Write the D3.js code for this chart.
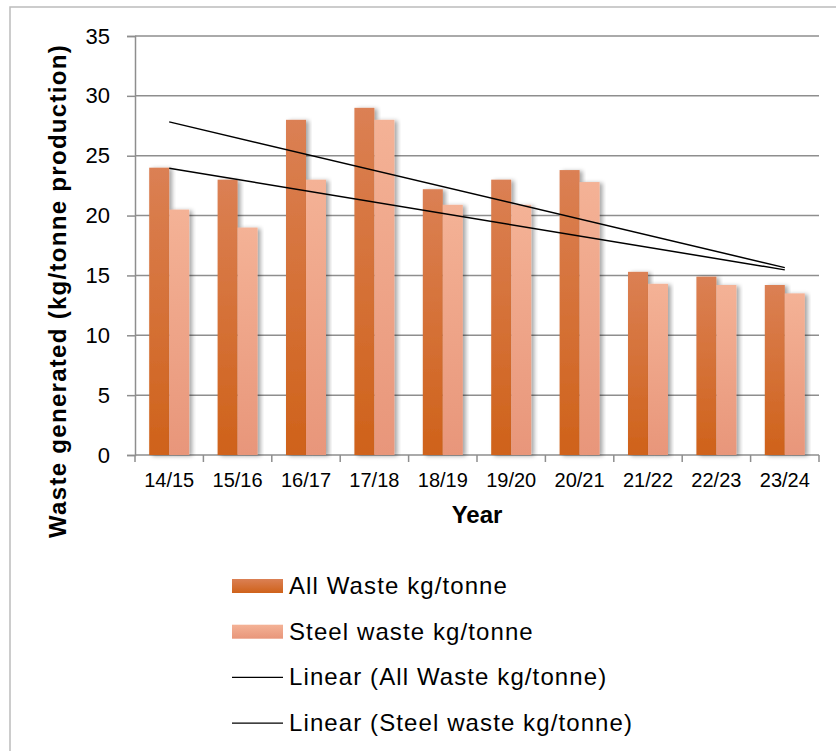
<!DOCTYPE html>
<html>
<head>
<meta charset="utf-8">
<script src="https://cdn.jsdelivr.net/npm/d3@7"></script>
<style>
  body { margin: 0; background: #fff; }
  svg { display: block; font-family: "Liberation Sans", Arial, sans-serif; }
</style>
</head>
<body>
<svg id="chart" width="836" height="751"></svg>
<script>
var years = ["14/15", "15/16", "16/17", "17/18", "18/19", "19/20", "20/21", "21/22", "22/23", "23/24"];
var allWaste = [24, 23, 28, 29, 22.2, 23, 23.8, 15.3, 14.9, 14.2];
var steelWaste = [20.5, 19, 23, 28, 20.9, 20.9, 22.8, 14.3, 14.2, 13.5];
var seriesNames = ["All Waste kg/tonne", "Steel waste kg/tonne"];
var yTicks = [0, 5, 10, 15, 20, 25, 30, 35];

var plotLeft = 135, plotRight = 819, plotTop = 36, plotBottom = 455;

var svg = d3.select("#chart");

// outer frame
svg.append("rect")
    .attr("x", 10).attr("y", 7)
    .attr("width", 840).attr("height", 760)
    .attr("fill", "none")
    .attr("stroke", "#bcbcbc")
    .attr("stroke-width", 1.5);

var defs = svg.append("defs");

function grad(id, c1, c2) {
    var g = defs.append("linearGradient").attr("id", id)
        .attr("x1", 0).attr("y1", 0).attr("x2", 0).attr("y2", 1);
    g.append("stop").attr("offset", "0%").attr("stop-color", c1);
    g.append("stop").attr("offset", "100%").attr("stop-color", c2);
}
grad("gAll", "#db8054", "#cf621a");
grad("gSteel", "#f4b296", "#e8967a");

var shadow = defs.append("filter").attr("id", "shadow")
    .attr("x", "-30%").attr("y", "-10%").attr("width", "160%").attr("height", "120%");
shadow.append("feDropShadow")
    .attr("dx", 3).attr("dy", 1)
    .attr("stdDeviation", 2)
    .attr("flood-color", "#000")
    .attr("flood-opacity", 0.35);

var x = d3.scaleBand().domain(years).range([plotLeft, plotRight]);
var x1 = d3.scaleBand().domain(seriesNames).range([0, x.bandwidth()]).paddingOuter(0.71);
var y = d3.scaleLinear().domain([0, 35]).range([plotBottom, plotTop]);

// gridlines
svg.append("g")
    .selectAll("line")
    .data(yTicks)
    .enter().append("line")
    .attr("x1", plotLeft).attr("x2", plotRight)
    .attr("y1", function (d) { return y(d); })
    .attr("y2", function (d) { return y(d); })
    .attr("stroke", "#8e8e8e")
    .attr("stroke-width", 1.5);

// y axis
var yAxis = d3.axisLeft(y).tickValues(yTicks).tickSize(8).tickPadding(17);
var gy = svg.append("g")
    .attr("transform", "translate(" + plotLeft + ",0)")
    .call(yAxis);
gy.select(".domain").attr("stroke", "#8e8e8e").attr("stroke-width", 1.5);
gy.selectAll(".tick line").attr("stroke", "#8e8e8e").attr("stroke-width", 1.5);
gy.selectAll(".tick text")
    .attr("font-size", 22)
    .attr("fill", "#000")
    .attr("font-family", "Liberation Sans, Arial, sans-serif");

// x axis ticks at band boundaries
var bounds = years.map(function (d) { return x(d); }).concat([plotRight]);
svg.append("g")
    .selectAll("line")
    .data(bounds)
    .enter().append("line")
    .attr("x1", function (d) { return d; })
    .attr("x2", function (d) { return d; })
    .attr("y1", plotBottom).attr("y2", plotBottom + 7)
    .attr("stroke", "#8e8e8e")
    .attr("stroke-width", 1.5);

svg.append("g")
    .selectAll("text")
    .data(years)
    .enter().append("text")
    .attr("x", function (d) { return x(d) + x.bandwidth() / 2; })
    .attr("y", 487)
    .attr("text-anchor", "middle")
    .attr("font-size", 20)
    .text(function (d) { return d; });

// bars
var groups = svg.append("g")
    .selectAll("g")
    .data(years)
    .enter().append("g")
    .attr("transform", function (d) { return "translate(" + x(d) + ",0)"; });

groups.append("rect")
    .attr("x", x1(seriesNames[0]))
    .attr("y", function (d, i) { return y(allWaste[i]); })
    .attr("width", x1.bandwidth())
    .attr("height", function (d, i) { return plotBottom - y(allWaste[i]); })
    .attr("fill", "url(#gAll)")
    .attr("filter", "url(#shadow)");

groups.append("rect")
    .attr("x", x1(seriesNames[1]))
    .attr("y", function (d, i) { return y(steelWaste[i]); })
    .attr("width", x1.bandwidth())
    .attr("height", function (d, i) { return plotBottom - y(steelWaste[i]); })
    .attr("fill", "url(#gSteel)")
    .attr("filter", "url(#shadow)");

// linear trendlines (least squares, like the spreadsheet)
function trend(vals) {
    var n = vals.length;
    var xs = d3.range(1, n + 1);
    var mx = d3.mean(xs), my = d3.mean(vals);
    var sxy = d3.sum(xs, function (v, i) { return (v - mx) * (vals[i] - my); });
    var sxx = d3.sum(xs, function (v) { return (v - mx) * (v - mx); });
    var b = sxy / sxx, a = my - b * mx;
    return [[years[0], a + b * 1], [years[n - 1], a + b * n]];
}

var line = d3.line()
    .x(function (d) { return x(d[0]) + x.bandwidth() / 2; })
    .y(function (d) { return y(d[1]); });

[allWaste, steelWaste].forEach(function (vals) {
    svg.append("path")
        .attr("d", line(trend(vals)))
        .attr("fill", "none")
        .attr("stroke", "#000")
        .attr("stroke-width", 1.5);
});

// axis titles
svg.append("text")
    .attr("x", (plotLeft + plotRight) / 2)
    .attr("y", 523)
    .attr("text-anchor", "middle")
    .attr("font-size", 24)
    .attr("font-weight", "bold")
    .text("Year");

svg.append("text")
    .attr("transform", "translate(66,291) rotate(-90)")
    .attr("text-anchor", "middle")
    .attr("font-size", 24)
    .attr("letter-spacing", 1.3)
    .attr("font-weight", "bold")
    .text("Waste generated (kg/tonne production)");

// legend
var legendItems = [
    { label: "All Waste kg/tonne", type: "rect", fill: "url(#gAll)" },
    { label: "Steel waste kg/tonne", type: "rect", fill: "url(#gSteel)" },
    { label: "Linear (All Waste kg/tonne)", type: "line" },
    { label: "Linear (Steel waste kg/tonne)", type: "line" }
];

var leg = svg.append("g")
    .selectAll("g")
    .data(legendItems)
    .enter().append("g")
    .attr("transform", function (d, i) { return "translate(232," + (586 + i * 45.7) + ")"; });

leg.filter(function (d) { return d.type === "rect"; })
    .append("rect")
    .attr("x", 0).attr("y", -7)
    .attr("width", 51).attr("height", 14)
    .attr("fill", function (d) { return d.fill; });

leg.filter(function (d) { return d.type === "line"; })
    .append("line")
    .attr("x1", 0).attr("x2", 51)
    .attr("y1", 0).attr("y2", 0)
    .attr("stroke", "#000")
    .attr("stroke-width", 1.2);

leg.append("text")
    .attr("x", 57)
    .attr("y", 8)
    .attr("font-size", 24)
    .attr("letter-spacing", 1.1)
    .text(function (d) { return d.label; });
</script>
</body>
</html>
